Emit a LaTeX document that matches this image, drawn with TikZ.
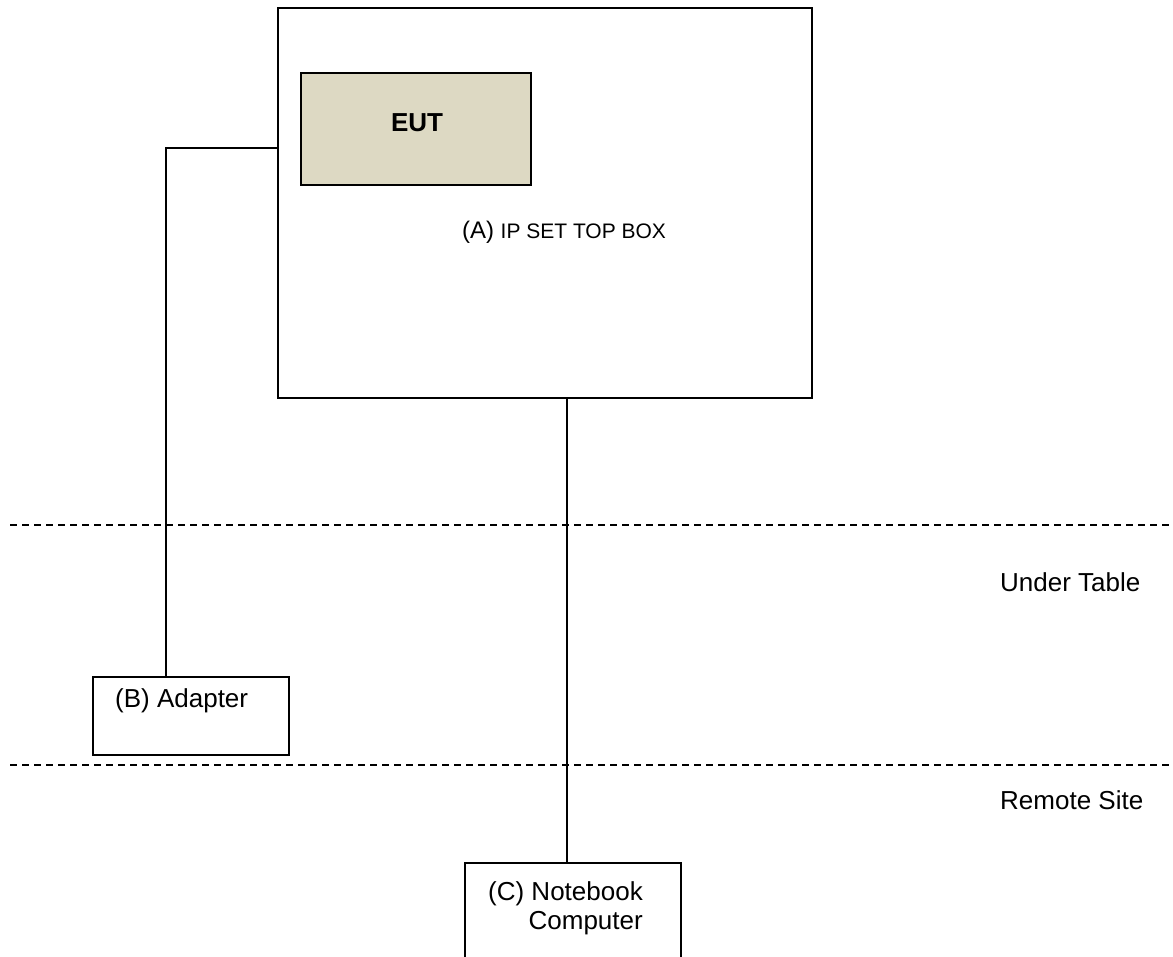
\documentclass[tikz,border=0pt]{standalone}
\usepackage{fontspec}
\setmainfont{Liberation Sans}

\definecolor{eutfill}{HTML}{DDD9C3}

\tikzset{
  unitbox/.style={draw, line width=1.4pt, inner sep=0pt},
  cable/.style={line width=1.4pt},
  zoneline/.style={line width=1.2pt, dash pattern=on 7pt off 5pt},
  lbl/.style={font=\fontsize{26}{29}\selectfont, inner sep=0pt}
}

\begin{document}
\begin{tikzpicture}[x=1pt, y=-1pt]
\useasboundingbox (0,0) rectangle (1173,957);

% the table top
\node[unitbox, minimum width=534pt, minimum height=390pt] (stb) at (545,203) {};
\node[unitbox, fill=eutfill, minimum width=230pt, minimum height=112pt] (eut) at (416,129) {};
\node[lbl, font=\bfseries\fontsize{26}{30}\selectfont] (eutlabel) at (417,123) {EUT};
\node[lbl, font=\fontsize{24}{28}\selectfont] (stblabel) at (564,232) {(A) {\fontsize{21}{25}\selectfont IP SET TOP BOX}};

% under the table and remote site
\node[unitbox, minimum width=196pt, minimum height=78pt] (adapter) at (191,716) {};
\node[lbl, anchor=west] (adapterlabel) at (115,701) {(B) Adapter};
\node[unitbox, minimum width=216pt, minimum height=130pt] (notebook) at (573,928) {};
\node[lbl, align=right, anchor=north east] (notebooklabel) at (643,881) {(C) Notebook\\Computer};

\node[lbl, anchor=west] (tablelabel) at (1000,582) {Under Table};
\node[lbl, anchor=west] (remotelabel) at (1000,800) {Remote Site};

% cables
\coordinate (powerjoint) at (166,148);
\coordinate (lanx) at (567,0);
\draw[cable] (stb.west |- powerjoint) -- (powerjoint) -- (adapter.north -| powerjoint);
\draw[cable] (stb.south -| lanx) -- (notebook.north -| lanx);

% zone borders
\coordinate (tableleft) at (10,525);
\coordinate (remoteleft) at (10,765);
\draw[zoneline] (tableleft) -- (tableleft -| 1173,0);
\draw[zoneline] (remoteleft) -- (remoteleft -| 1173,0);
\end{tikzpicture}
\end{document}
